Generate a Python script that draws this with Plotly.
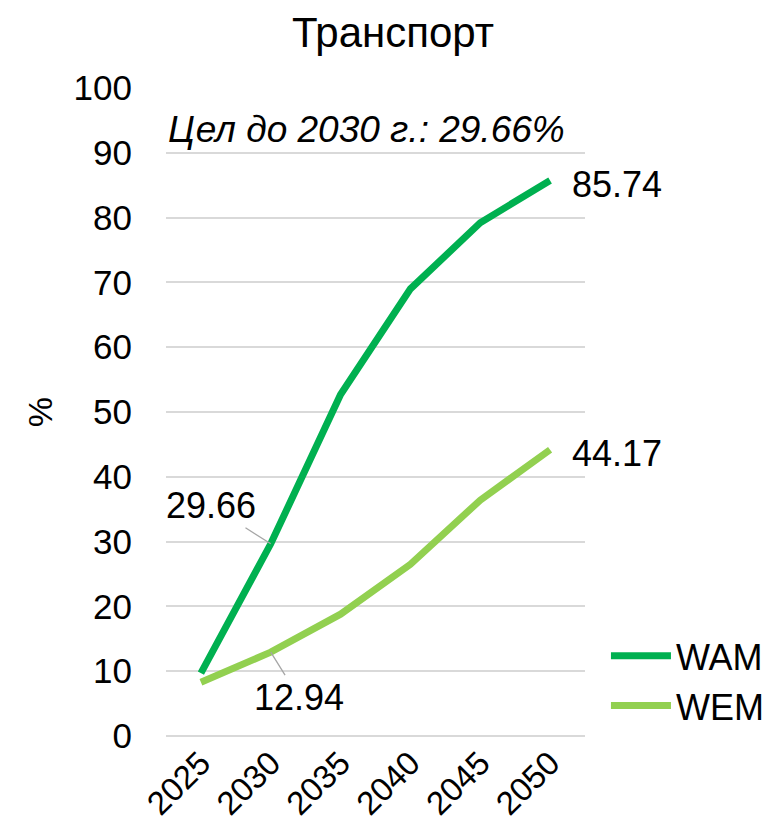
import plotly.graph_objects as go

FONT = "Liberation Sans, Arial, sans-serif"

years = ["2025", "2030", "2035", "2040", "2045", "2050"]
wam = [9.7, 29.66, 52.7, 69.0, 79.2, 85.74]
wem = [8.3, 12.94, 18.8, 26.5, 36.4, 44.17]
target_text = "Цел до 2030 г.: 29.66%"

C_WAM = "#00B050"
C_WEM = "#92D050"

fig = go.Figure()
fig.add_trace(go.Scatter(x=years, y=wam, name="WAM", mode="lines",
                         line=dict(color=C_WAM, width=7)))
fig.add_trace(go.Scatter(x=years, y=wem, name="WEM", mode="lines",
                         line=dict(color=C_WEM, width=7)))

i30 = years.index("2030")
iend = len(years) - 1
anns = [
    # leader-line labels at 2030
    dict(x=i30, y=wam[i30], text=f"{wam[i30]:.2f}", showarrow=True, arrowhead=0,
         arrowwidth=1.3, arrowcolor="#A6A6A6", ax=-60, ay=-38, standoff=0),
    dict(x=i30, y=wem[i30], text=f"{wem[i30]:.2f}", showarrow=True, arrowhead=0,
         arrowwidth=1.3, arrowcolor="#A6A6A6", ax=28, ay=45, standoff=0),
    # end labels
    dict(x=iend, y=wam[iend], text=f"{wam[iend]:.2f}", showarrow=False,
         xanchor="left", xshift=20, yshift=-4),
    dict(x=iend, y=wem[iend], text=f"{wem[iend]:.2f}", showarrow=False,
         xanchor="left", xshift=20, yshift=-4),
    # target note
    dict(x=0, xref="paper", y=93.6, text=f"<i>{target_text}</i>", showarrow=False,
         xanchor="left", yanchor="middle", font=dict(size=37)),
    # y axis title
    dict(x=-0.30, xref="paper", y=0.5, yref="paper", text="%", textangle=-90,
         showarrow=False, xanchor="center", yanchor="middle", font=dict(size=34)),
]
for a in anns:
    a.setdefault("font", dict(size=36))
    a["font"]["color"] = "black"
    a["font"]["family"] = FONT

# page body adds an 8px offset, so margins are shifted to compensate
fig.update_layout(
    width=781, height=838,
    title=dict(text="Транспорт", x=0.493, xanchor="center", y=0.971, yanchor="middle",
               font=dict(size=42, color="black", family=FONT)),
    font=dict(family=FONT, color="black", size=34),
    plot_bgcolor="white", paper_bgcolor="white",
    margin=dict(l=158, r=204, t=80, b=110),
    showlegend=True,
    legend=dict(x=1.05, y=0.085, xanchor="left", yanchor="middle",
                font=dict(size=36, color="black", family=FONT),
                bgcolor="rgba(0,0,0,0)", itemwidth=60),
    annotations=anns,
)
fig.update_xaxes(type="category", range=[-0.5, len(years) - 0.5], tickangle=-45,
                 showgrid=False, showline=False, ticks="", automargin=False,
                 tickfont=dict(size=33, color="black"))
fig.update_yaxes(range=[0, 100], dtick=10, showgrid=True, gridcolor="#D9D9D9",
                 gridwidth=1.5, zeroline=True, zerolinecolor="#D9D9D9", zerolinewidth=1.5,
                 ticks="", automargin=False, tickfont=dict(size=35, color="black"),
                 ticklabelstandoff=33)

fig.write_html("out.html")
